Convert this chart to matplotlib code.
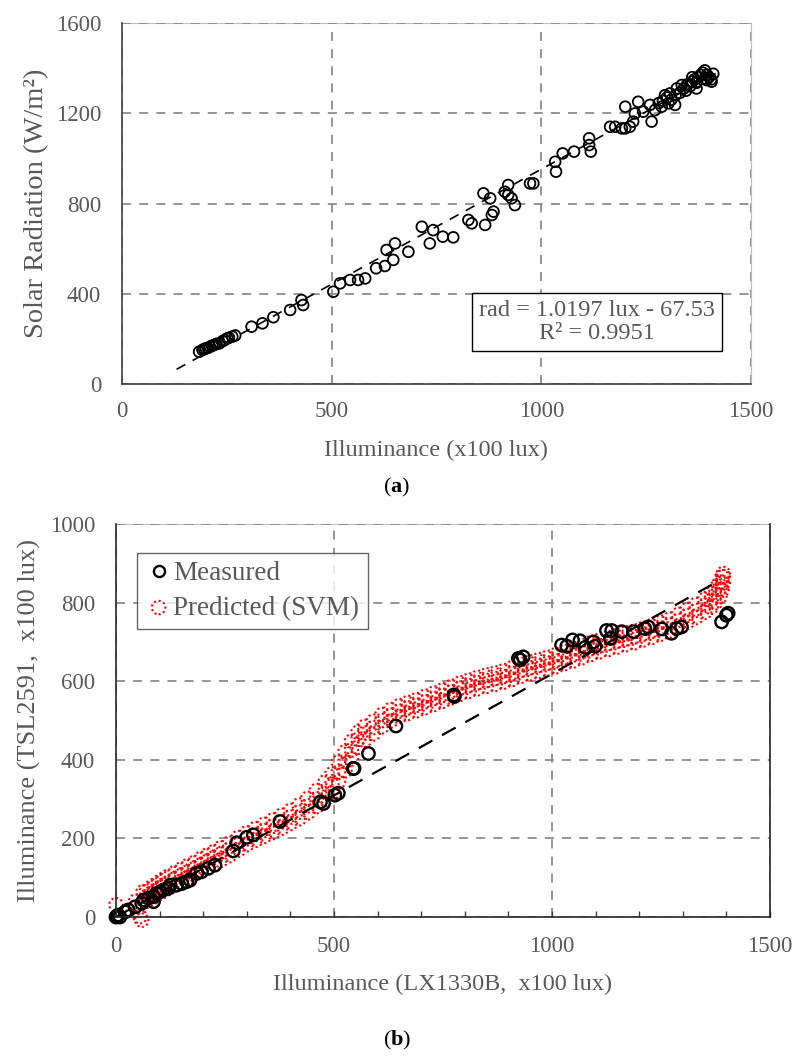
import matplotlib
matplotlib.use("Agg")
import matplotlib.pyplot as plt
from matplotlib.ticker import MultipleLocator
from matplotlib.lines import Line2D

plt.rcParams['font.family'] = ['Liberation Serif', 'DejaVu Serif']
plt.rcParams['mathtext.fontset'] = 'custom'
plt.rcParams['mathtext.rm'] = 'Liberation Serif'
plt.rcParams['mathtext.bf'] = 'Liberation Serif:bold'

# ---- (a) solar radiation vs illuminance ----
solar_lux = [184, 192, 196, 200, 205, 210, 215, 220, 225, 232, 240, 245, 251, 255, 263, 270,
             309, 335, 361, 401, 428, 432, 504, 520, 544, 563, 580, 606, 627, 631, 647, 651,
             683, 715, 734, 742, 765, 790, 826, 834, 866, 862, 878, 882, 886, 913, 921, 921,
             929, 937, 973, 981, 1033, 1035, 1051, 1078, 1114, 1114, 1118, 1164, 1176, 1192,
             1200, 1211, 1219, 1200, 1231, 1223, 1243, 1259, 1263, 1271, 1287, 1303, 1319,
             1307, 1323, 1347, 1371, 1394, 1406, 1330, 1340, 1345, 1350, 1355, 1360, 1365,
             1370, 1375, 1380, 1385, 1390, 1395, 1400, 1405, 1410, 1390, 1360, 1335, 1320,
             1300, 1310, 1290, 1280, 1295, 1370]
solar_rad = [143, 151, 155, 158, 160, 165, 170, 173, 178, 180, 190, 195, 202, 205, 210, 215,
             254, 269, 296, 328, 372, 350, 409, 446, 461, 461, 468, 513, 523, 594, 550, 623,
             586, 697, 623, 682, 653, 650, 727, 712, 705, 845, 823, 749, 764, 852, 882, 838,
             823, 793, 889, 889, 985, 941, 1022, 1030, 1089, 1059, 1030, 1140, 1140, 1133,
             1133, 1140, 1163, 1229, 1251, 1199, 1207, 1237, 1163, 1214, 1229, 1244, 1237,
             1288, 1310, 1325, 1340, 1347, 1340, 1290, 1310, 1300, 1330, 1320, 1340, 1350,
             1335, 1360, 1370, 1380, 1355, 1370, 1360, 1350, 1375, 1390, 1360, 1325, 1280,
             1270, 1260, 1255, 1245, 1280, 1310]
fit_slope = 1.0197
fit_icpt = -67.53
fit_range = [130, 1420]

# ---- (b) TSL2591 vs LX1330B ----
meas_x = [0, 2, 5, 9, 21, 28, 44, 59, 63, 74, 86, 86, 93, 101, 109, 120, 124, 139, 151, 162,
          170, 185, 196, 212, 227, 269, 277, 300, 315, 376, 469, 476, 502, 510, 544, 546, 579,
          642, 775, 776, 923, 927, 934, 1022, 1034, 1047, 1064, 1076, 1095, 1099, 1125, 1134,
          1137, 1160, 1187, 1213, 1221, 1252, 1274, 1286, 1297, 1389, 1400, 1404]
meas_y = [0, 1, 5, 0, 13, 18, 26, 35, 43, 48, 52, 39, 60, 64, 69, 73, 81, 81, 85, 90,
          94, 111, 115, 124, 132, 168, 189, 203, 209, 243, 293, 289, 310, 315, 378, 378, 416,
          486, 565, 561, 658, 654, 662, 692, 689, 705, 703, 686, 700, 689, 729, 709,
          729, 726, 726, 734, 738, 733, 722, 734, 738, 751, 768, 773]

pred_x = [70, 80, 90, 100, 110, 120, 135, 150, 165, 180, 195, 210, 225, 240, 260, 280, 300,
          320, 340, 360, 380, 400, 420, 440, 460, 480, 495, 510, 525, 540, 555, 570, 590, 610,
          630, 650, 670, 690, 710, 730, 750, 770, 790, 810, 830, 850, 870, 890, 910, 930, 950,
          970, 990, 1010, 1030, 1050, 1070, 1090, 1110, 1130, 1150, 1170, 1190, 1210, 1230,
          1250, 1270, 1290, 1310, 1330, 1350, 1365, 1375, 1385, 1390, 1393]
pred_mid = [52, 60, 67, 75, 82, 88, 97, 106, 115, 123, 133, 142, 151, 160, 172, 186, 199,
            210, 220, 231, 242, 254, 267, 283, 301, 321, 338, 368, 395, 425, 452, 468, 482, 500,
            514, 524, 532, 539, 548, 556, 564, 573, 582, 589, 596, 602, 607, 612, 620, 628, 634,
            640, 646, 652, 660, 667, 675, 683, 690, 696, 702, 708, 713, 720, 727,
            735, 743, 755, 767, 780, 793, 806, 818, 835, 852, 866]
pred_hi = [66, 75, 82, 90, 97, 104, 113, 122, 131, 139, 149, 158, 167, 176, 188, 202, 214,
           225, 236, 247, 259, 271, 285, 302, 322, 344, 364, 394, 420, 447, 470, 485, 498, 515,
           528, 538, 546, 553, 562, 570, 578, 587, 596, 603, 610, 616, 621, 627, 635, 643, 649,
           655, 661, 668, 676, 683, 691, 699, 705, 711, 717, 723, 728, 735, 742,
           750, 758, 770, 782, 795, 808, 822, 836, 852, 866, 874]
pred_lo = [40, 46, 53, 60, 67, 73, 82, 91, 100, 108, 117, 126, 135, 144, 156, 170, 184,
           195, 205, 215, 226, 238, 250, 265, 281, 300, 315, 344, 372, 402, 432, 450, 466, 484,
           499, 510, 518, 525, 533, 541, 549, 558, 567, 574, 581, 587, 592, 598, 605, 613, 619,
           625, 631, 637, 645, 652, 660, 668, 675, 681, 687, 693, 698, 705, 712,
           720, 728, 738, 750, 762, 775, 788, 800, 815, 832, 850]
pred_odd_x = [0, 45, 51, 55, 59, 62]
pred_odd_y = [31, 40, 26, 1, -8, 64]

line_x = [0, 1390]
line_y = [0, 860]

gray = '#595959'
gridc = '#8c8c8c'

fig = plt.figure(figsize=(7.99, 10.59), dpi=100)

# ---------- chart (a) ----------
ax1 = fig.add_axes([122/799, 1 - 384/1059, 629/799, 361/1059])
ax1.scatter(solar_lux, solar_rad, s=60, facecolors='none', edgecolors='black',
            linewidths=1.3, zorder=3)
fx = fit_range
fy = [fit_slope * v + fit_icpt for v in fx]
ax1.plot(fx, fy, color='black', lw=1.2, ls=(0, (6, 5)), zorder=2)
ax1.set_xlim(0, 1500)
ax1.set_ylim(0, 1600)
ax1.set_xticks([0, 500, 1000, 1500])
ax1.set_yticks([0, 400, 800, 1200, 1600])
ax1.grid(True, color=gridc, ls=(0, (5, 4.5)), lw=1.3)
ax1.tick_params(length=0, labelsize=16.5, labelcolor=gray)
ax1.tick_params(axis='y', pad=15)
ax1.tick_params(axis='x', pad=12)
for s in ['left', 'bottom']:
    ax1.spines[s].set_color('#404040')
    ax1.spines[s].set_linewidth(1.2)
    ax1.spines[s].set_zorder(4)
for s in ['top', 'right']:
    ax1.spines[s].set_color('#bfbfbf')
    ax1.spines[s].set_linewidth(0.8)
    ax1.spines[s].set_zorder(1)
ax1.set_xlabel('Illuminance (x100 lux)', fontsize=17.5, color=gray, labelpad=13)
ax1.set_ylabel('Solar Radiation (W/m²)', fontsize=20.5, color=gray, labelpad=5)
ax1.text(1133, 275, 'rad = 1.0197 lux - 67.53\nR² = 0.9951', ha='center', va='center',
         fontsize=17.5, color=gray, linespacing=1.1, zorder=5,
         bbox=dict(boxstyle='square,pad=0.28', fc='white', ec='black', lw=1.0))
fig.text(397/799, 1 - 487/1059, r'($\mathbf{a}$)', ha='center', va='center', fontsize=16)

# ---------- chart (b) ----------
ax2 = fig.add_axes([116/799, 1 - 917/1059, 654/799, 393/1059])
dot = dict(s=95, facecolors='none', edgecolors='red', linewidths=1.5, linestyles=(0, (1, 1.3)),
           clip_on=False, zorder=3)
ax2.scatter(pred_x, pred_mid, **dot)
ax2.scatter(pred_x, pred_hi, **dot)
ax2.scatter(pred_x, pred_lo, **dot)
ax2.scatter(pred_odd_x, pred_odd_y, **dot)
ax2.scatter(meas_x, meas_y, s=80, facecolors='none', edgecolors='black', linewidths=1.7,
            clip_on=False, zorder=4)
ax2.plot(line_x, line_y, color='black', lw=1.6, ls=(0, (7, 5)), zorder=5)
ax2.set_xlim(0, 1500)
ax2.set_ylim(0, 1000)
ax2.set_xticks([0, 500, 1000, 1500])
ax2.set_yticks([0, 200, 400, 600, 800, 1000])
ax2.xaxis.set_minor_locator(MultipleLocator(100))
ax2.grid(True, color=gridc, ls=(0, (5, 4.5)), lw=1.3)
ax2.tick_params(which='both', direction='in', length=4, width=1, color='#404040',
                labelsize=16.5, labelcolor=gray)
ax2.tick_params(axis='y', length=0, pad=15)
ax2.tick_params(axis='x', pad=14)
for s in ['left', 'bottom', 'right']:
    ax2.spines[s].set_color('#262626')
    ax2.spines[s].set_linewidth(1.2)
    ax2.spines[s].set_zorder(6)
ax2.spines['top'].set_color('#bfbfbf')
ax2.spines['top'].set_linewidth(0.8)
ax2.spines['top'].set_zorder(1)
ax2.set_xlabel('Illuminance (LX1330B,  x100 lux)', fontsize=17.5, color=gray, labelpad=12)
ax2.set_ylabel('Illuminance (TSL2591,  x100 lux)', fontsize=19, color=gray, labelpad=6)

handles = [
    Line2D([], [], ls='none', marker='o', ms=8, mfc='none', mec='black', mew=1.7),
    ax2.scatter([], [], s=95, facecolors='none', edgecolors='red', linewidths=1.5,
                linestyles=(0, (1, 1.3))),
]
leg = ax2.legend(handles, ['Measured', 'Predicted (SVM)'], loc='upper left',
                 bbox_to_anchor=(0.032, 0.926), borderaxespad=0, fontsize=19.5,
                 frameon=True, fancybox=False, edgecolor='#404040', handletextpad=0.05,
                 handlelength=1.0, labelspacing=0.35, borderpad=0.3, labelcolor=gray)
leg.get_frame().set_linewidth(1.0)
leg.set_zorder(7)

fig.text(397/799, 1 - 1040/1059, r'($\mathbf{b}$)', ha='center', va='center', fontsize=16)

fig.savefig('out.png', dpi=100)
